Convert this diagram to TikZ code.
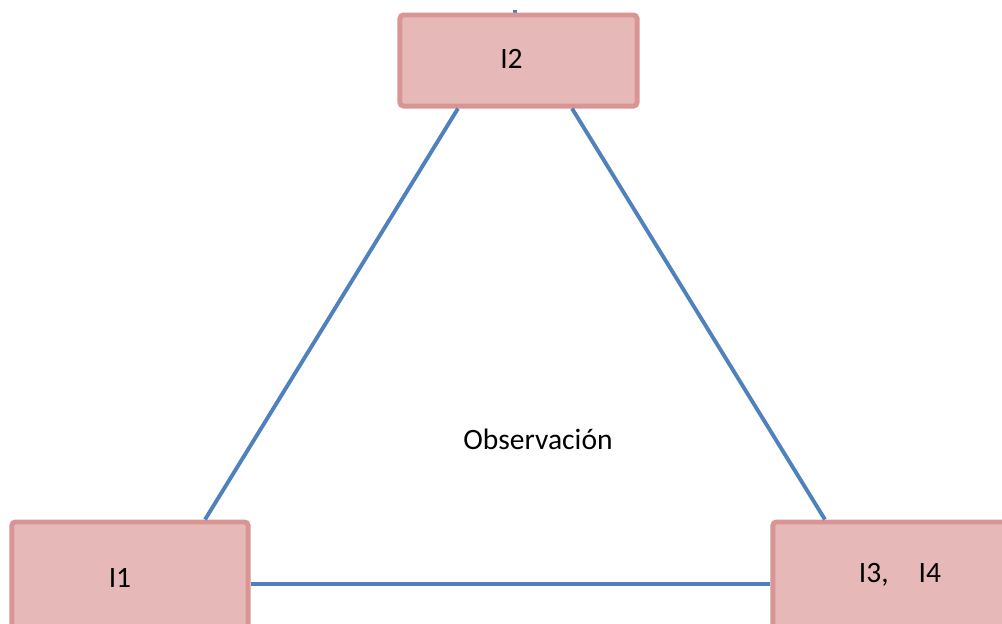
\documentclass[tikz,border=0pt]{standalone}
\usepackage{fontspec}
\setmainfont{Carlito}

\begin{document}
\begin{tikzpicture}[x=0.01cm,y=-0.01cm,
	box/.style={draw=boxline, fill=boxfill, line width=1.4pt, rounded corners=1pt, inner sep=0pt},
	link/.style={draw=linkblue, line width=1.1pt},
	every node/.style={font=\fontsize{8.4}{10}\selectfont}]
	\definecolor{boxfill}{HTML}{E6B9B8}
	\definecolor{boxline}{HTML}{D99594}
	\definecolor{linkblue}{HTML}{4F81BD}
	\useasboundingbox (0,0) rectangle (1002,623);
	\coordinate (top) at (515,10);
	\draw [link] (top) -- (515,20);
	\node (i2) [box, minimum width=2.37cm, minimum height=0.91cm] at (518.5,60.5) {};
	\node (i1) [box, minimum width=2.36cm, minimum height=1.12cm] at (130,578) {};
	\node (i3) [box, minimum width=2.40cm, minimum height=1.12cm] at (893,578) {};
	\draw [link] ([xshift=-0.605cm]i2.south) -- ([xshift=0.75cm]i1.north);
	\draw [link] ([xshift=0.535cm]i2.south) -- ([xshift=-0.68cm]i3.north);
	\draw [link] ([yshift=-0.06cm]i1.east) -- ([yshift=-0.06cm]i3.west);
	\node (t2) at ([xshift=-0.07cm,yshift=0.02cm]i2.center) {I2};
	\node (t1) at ([xshift=-0.10cm]i1.center) {I1};
	\node (t3) at ([xshift=0.07cm,yshift=0.03cm]i3.center) {I3,\hspace{0.3cm}I4};
	\node (obs) at (538,439) {Observación};
\end{tikzpicture}
\end{document}
